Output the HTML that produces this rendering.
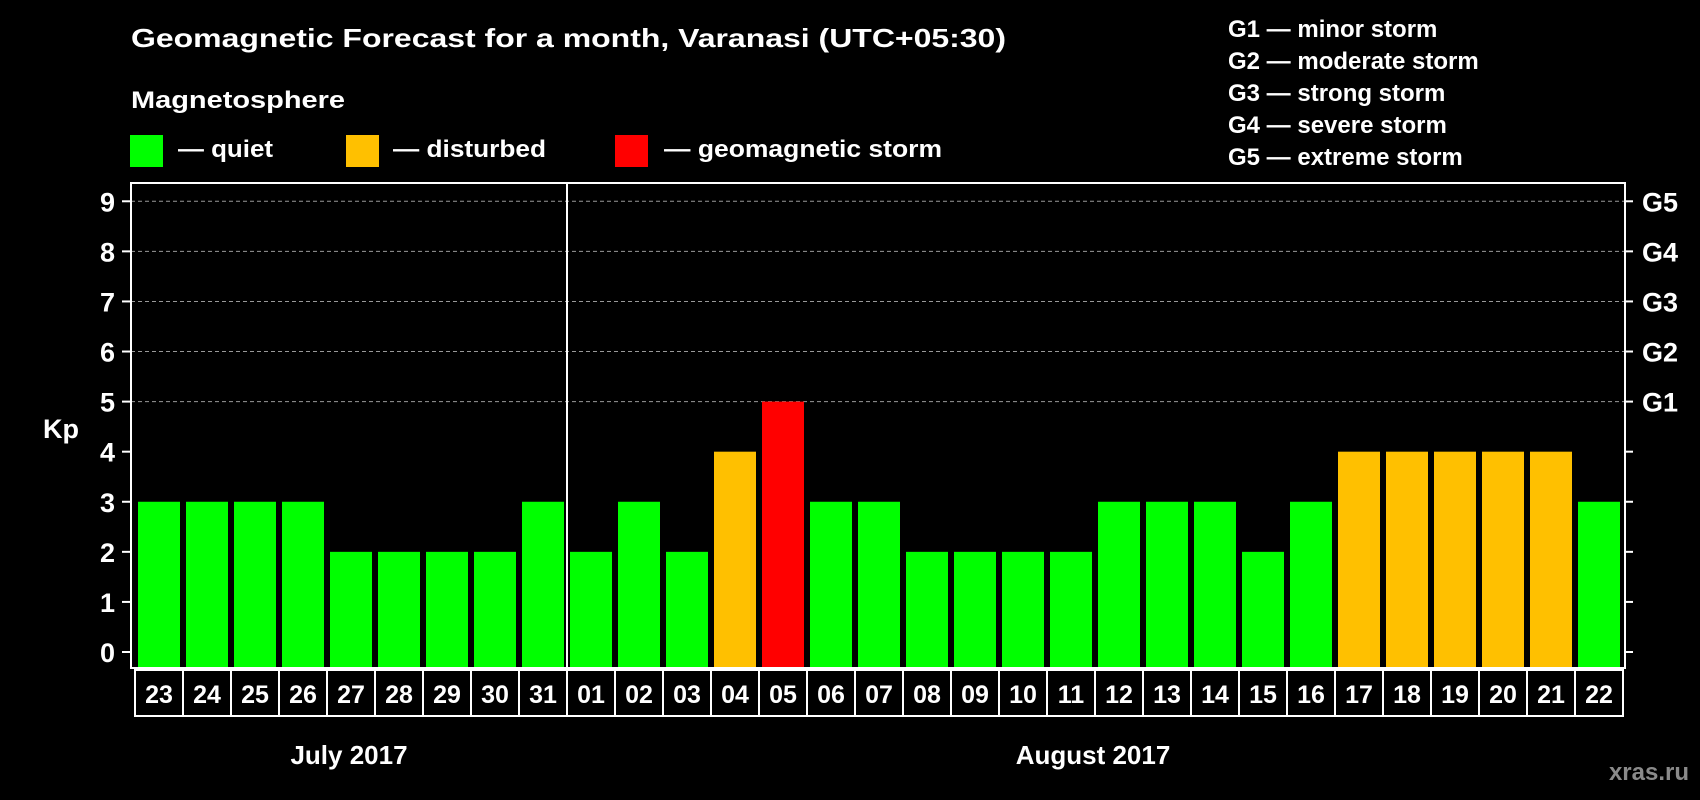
<!DOCTYPE html>
<html><head><meta charset="utf-8"><style>
html,body{margin:0;padding:0;background:#000;}
svg{display:block;font-family:"Liberation Sans",Arial,sans-serif;font-weight:bold;}
</style></head><body>
<svg id="chart" width="1700" height="800" viewBox="0 0 1700 800" xmlns="http://www.w3.org/2000/svg">
<rect x="0" y="0" width="1700" height="800" fill="#000"/>
<text x="131" y="47" fill="#fff" font-size="26" textLength="875" lengthAdjust="spacingAndGlyphs">Geomagnetic Forecast for a month, Varanasi (UTC+05:30)</text>
<text x="131" y="108" fill="#fff" font-size="24" textLength="214" lengthAdjust="spacingAndGlyphs">Magnetosphere</text>
<g><rect x="130" y="135" width="33" height="32" fill="#00ff00"/><text x="178" y="157" fill="#fff" font-size="24" textLength="95" lengthAdjust="spacingAndGlyphs">— quiet</text></g>
<g><rect x="346" y="135" width="33" height="32" fill="#ffc000"/><text x="393" y="157" fill="#fff" font-size="24" textLength="153" lengthAdjust="spacingAndGlyphs">— disturbed</text></g>
<g><rect x="615" y="135" width="33" height="32" fill="#ff0000"/><text x="664" y="157" fill="#fff" font-size="24" textLength="278" lengthAdjust="spacingAndGlyphs">— geomagnetic storm</text></g>
<g fill="#fff" font-size="24">
<text x="1228" y="37">G1 — minor storm</text>
<text x="1228" y="69">G2 — moderate storm</text>
<text x="1228" y="101">G3 — strong storm</text>
<text x="1228" y="133">G4 — severe storm</text>
<text x="1228" y="165">G5 — extreme storm</text>
</g>
<text x="43" y="438" fill="#fff" font-size="27">Kp</text>
<g id="grid"></g><g id="bars"></g><g id="axes"></g>
<text x="349" y="764" fill="#fff" font-size="26" text-anchor="middle">July 2017</text>
<text x="1093" y="764" fill="#fff" font-size="26" text-anchor="middle">August 2017</text>
<text x="1689" y="780" fill="#8a8a8a" font-size="24" text-anchor="end">xras.ru</text>
</svg>
<script>
const days = ["23","24","25","26","27","28","29","30","31","01","02","03","04","05","06","07","08","09","10","11","12","13","14","15","16","17","18","19","20","21","22"];
const kpValues = [3,3,3,3,2,2,2,2,3,2,3,2,4,5,3,3,2,2,2,2,3,3,3,2,3,4,4,4,4,4,3];
const yTicks = [0,1,2,3,4,5,6,7,8,9];
const gLabels = ["G1","G2","G3","G4","G5"];
const gLevels = [5,6,7,8,9];
const monthSplitIndex = 9;

const NS="http://www.w3.org/2000/svg";
const L=131,R=1625,T=183,B=668,X0=138,PITCH=48,BW=42;
const yS=v=>652-v*50.08;
const xS=i=>X0+i*PITCH;
function mk(tag,attrs,parent){const e=document.createElementNS(NS,tag);for(const k in attrs)e.setAttribute(k,attrs[k]);parent.appendChild(e);return e;}
const grid=document.getElementById('grid'),bars=document.getElementById('bars'),axes=document.getElementById('axes');
gLevels.forEach(v=>{const l=mk('line',{x1:L,x2:R,y1:yS(v),y2:yS(v),stroke:'#999','stroke-width':1,'stroke-dasharray':'4,3'},grid);

});
kpValues.forEach((v,i)=>{const c=v>=5?'#ff0000':(v>=4?'#ffc000':'#00ff00');
const r=mk('rect',{x:xS(i),y:yS(v),width:BW,height:B-yS(v),fill:c},bars);

});
const frame=mk('rect',{x:L,y:T,width:R-L,height:B-T,fill:'none',stroke:'#fff','stroke-width':2},axes);


const dx=xS(monthSplitIndex)-3;
const div=mk('line',{x1:dx,x2:dx,y1:T,y2:B,stroke:'#fff','stroke-width':2},axes);


yTicks.forEach(v=>{const y=yS(v);
mk('line',{x1:L-9,x2:L,y1:y,y2:y,stroke:'#fff','stroke-width':2},axes);
mk('line',{x1:R,x2:R+8,y1:y,y2:y,stroke:'#fff','stroke-width':2},axes);
const t=mk('text',{x:115,y:y+10,fill:'#fff','font-size':27,'text-anchor':'end'},axes);
t.textContent=v;

});
gLevels.forEach((v,i)=>{const t=mk('text',{x:1642,y:yS(v)+10,fill:'#fff','font-size':27},axes);
t.textContent=gLabels[i];

});
days.forEach((d,i)=>{const cx=xS(i)-3;
const c=mk('rect',{x:cx,y:670,width:PITCH,height:46,fill:'none',stroke:'#fff','stroke-width':2},axes);


const t=mk('text',{x:cx+PITCH/2,y:703,fill:'#fff','font-size':25,'text-anchor':'middle'},axes);
t.textContent=d;

});
</script>
</body></html>
